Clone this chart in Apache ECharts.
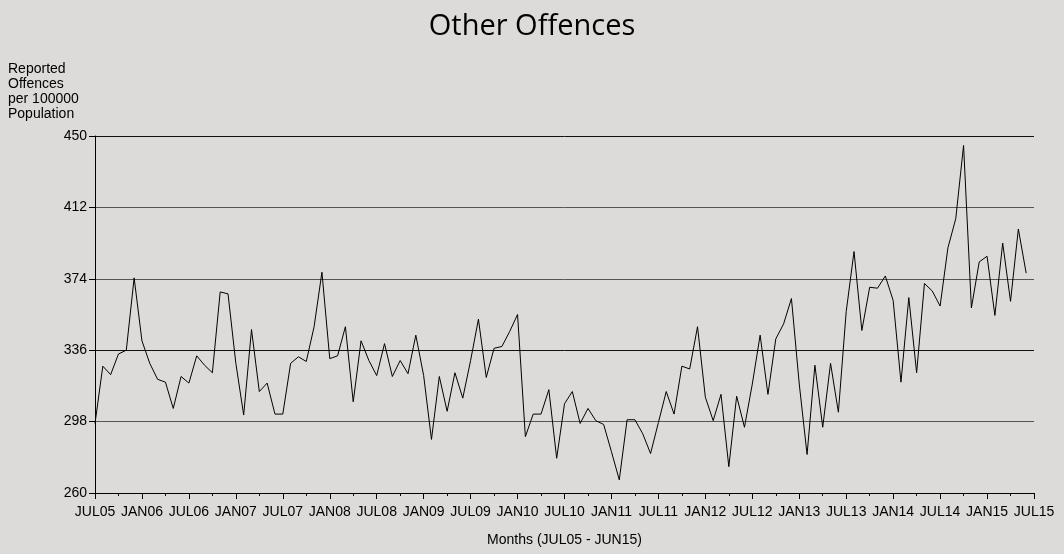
<!DOCTYPE html>
<html>
<head>
<meta charset="utf-8">
<script src="https://cdn.jsdelivr.net/npm/echarts@6/dist/echarts.min.js"></script>
<style>
html,body{margin:0;padding:0;background:#dcdbd9;}
#chart{width:1064px;height:554px;}
</style>
</head>
<body>
<div id="chart"></div>
<script>
// Monthly values JUL05 .. JUN15 (120 months)
var values = [
  297, 327.5, 323, 334, 336, 374.5, 341, 329, 320.5, 319,
  305, 322, 318.5, 333, 328, 324, 367, 366, 329, 301.5,
  347, 314, 318.5, 302, 302, 329, 332.5, 330, 348.5, 377.5,
  331.5, 333, 348.5, 308.5, 341, 330.5, 322.5, 339.5, 322, 330.5,
  323.5, 344, 322.5, 288.5, 322, 303.5, 324, 310.5, 330.5, 352.5,
  321.5, 337, 338, 346, 355, 290, 302, 302, 315, 278.5,
  307.5, 314, 297, 305, 298.5, 296.5, 282, 267, 299, 299,
  291.5, 281, 297.5, 314, 302, 327.5, 326, 348.5, 311, 298.5,
  312.5, 274, 311.5, 295, 318, 344, 312.5, 342, 350, 363.5,
  318, 280.5, 328, 295, 329, 303, 356.5, 388.5, 346.5, 369.5,
  369, 375.5, 362.5, 319, 364, 324, 371.5, 367.5, 359.5, 390.5,
  406, 445, 358.5, 383, 386, 354.5, 393, 362, 400.5, 377
];
var xTickLabels = ['JUL05','JAN06','JUL06','JAN07','JUL07','JAN08','JUL08','JAN09','JUL09','JAN10','JUL10',
  'JAN11','JUL11','JAN12','JUL12','JAN13','JUL13','JAN14','JUL14','JAN15','JUL15'];
var yTicks = [260, 298, 336, 374, 412, 450];
var titleText = 'Other Offences';
var yAxisTitle = ['Reported', 'Offences', 'per 100000', 'Population'];
var xAxisTitle = 'Months (JUL05 - JUN15)';

var seriesData = values.map(function (v, i) { return [i, v]; });
var font = 'Liberation Sans, Arial, sans-serif';

var chart = echarts.init(document.getElementById('chart'));
chart.setOption({
  backgroundColor: '#dcdbd9',
  animation: false,
  title: {
    text: titleText,
    left: 'center',
    top: 7,
    textStyle: { fontFamily: 'Open Sans', fontWeight: 'normal', fontSize: 29, color: '#000' }
  },
  graphic: [{
    type: 'text',
    left: 8,
    top: 62,
    style: {
      text: yAxisTitle.join('\n'),
      font: '14px ' + font,
      lineHeight: 15,
      fill: '#000'
    }
  }],
  grid: { left: 95, right: 30, top: 136, bottom: 61, containLabel: false, outerBoundsMode: 'none' },
  xAxis: {
    type: 'value',
    min: 0,
    max: 120,
    interval: 6,
    name: xAxisTitle,
    nameLocation: 'middle',
    nameGap: 40,
    nameTextStyle: { fontFamily: font, fontSize: 14, color: '#000' },
    axisLine: { show: true, lineStyle: { color: '#000', width: 1 } },
    axisTick: { show: true, length: 6, lineStyle: { color: '#000' } },
    minorTick: { show: true, splitNumber: 2, length: 3, lineStyle: { color: '#000' } },
    splitLine: { show: false },
    axisLabel: {
      margin: 12,
      fontFamily: font, fontSize: 14, color: '#000',
      formatter: function (v) { return xTickLabels[Math.round(v / 6)] || ''; }
    }
  },
  yAxis: {
    type: 'value',
    min: yTicks[0],
    max: yTicks[yTicks.length - 1],
    interval: yTicks[1] - yTicks[0],
    axisLine: { show: true, lineStyle: { color: '#000', width: 1 } },
    axisTick: { show: true, length: 6, lineStyle: { color: '#000' } },
    splitLine: { show: true, lineStyle: { color: ['#222', '#555', '#111', '#555', '#555', '#111'], width: 1 } },
    axisLabel: { margin: 8, fontFamily: font, fontSize: 14, color: '#000' }
  },
  series: [{
    type: 'line',
    data: seriesData,
    showSymbol: false,
    symbol: 'none',
    lineStyle: { color: '#000', width: 1 }
  }]
});
</script>
</body>
</html>
